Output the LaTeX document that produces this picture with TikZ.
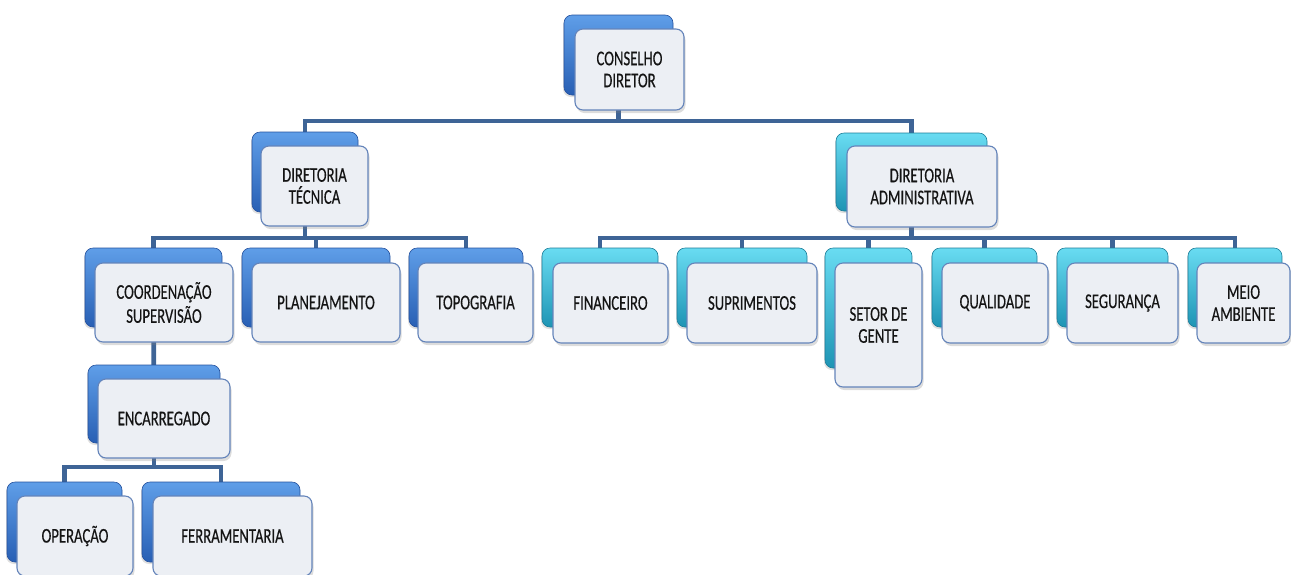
\documentclass[tikz,border=0pt]{standalone}
\usepackage{fontspec}
\setmainfont{Carlito}[FakeStretch=0.7,FakeBold=0.35]
\usetikzlibrary{shadows,backgrounds}
\definecolor{blueTop}{RGB}{95,158,232}
\definecolor{blueBot}{RGB}{40,95,180}
\definecolor{blueEdge}{RGB}{38,82,158}
\definecolor{cyanTop}{RGB}{105,220,242}
\definecolor{cyanBot}{RGB}{30,148,180}
\definecolor{cyanEdge}{RGB}{28,125,152}
\definecolor{frontFill}{RGB}{236,239,244}
\definecolor{frontLine}{RGB}{100,132,186}
\definecolor{connCol}{RGB}{62,100,150}
\definecolor{txtCol}{RGB}{20,20,20}
\begin{document}
\begin{tikzpicture}[x=1pt,y=-1pt,
  backblue/.style={rounded corners=8pt, inner sep=0pt, outer sep=0pt,
    top color=blueTop, bottom color=blueBot, draw=blueEdge, line width=0.6pt,
    drop shadow={opacity=0.25,shadow xshift=-1pt,shadow yshift=-2pt}},
  backcyan/.style={rounded corners=8pt, inner sep=0pt, outer sep=0pt,
    top color=cyanTop, bottom color=cyanBot, draw=cyanEdge, line width=0.6pt,
    drop shadow={opacity=0.25,shadow xshift=-1pt,shadow yshift=-2pt}},
  front/.style={rounded corners=8pt, inner sep=0pt, outer sep=0pt,
    fill=frontFill, draw=frontLine, line width=1.1pt, align=center,
    text=txtCol, font=\fontsize{21}{22}\selectfont,
    drop shadow={opacity=0.28,shadow xshift=1.5pt,shadow yshift=-3pt}},
  conn/.style={draw=connCol, line width=4.8pt, line join=miter}]
\useasboundingbox (0,0) rectangle (1291,574);
\coordinate (L1) at (0,121);
\coordinate (L2) at (0,238);
\coordinate (L4) at (0,467);

% level 0
\node[backblue, minimum width=109, minimum height=80] (cb) at (618.5,55) {};
\node[front, minimum width=109, minimum height=81] (c) at (629.5,69.5) {CONSELHO\\DIRETOR};
% level 1
\node[backblue, minimum width=106, minimum height=80] (dtb) at (305,172) {};
\node[front, minimum width=107, minimum height=80] (dt) at (314.5,186) {DIRETORIA\\TÉCNICA};
\node[backcyan, minimum width=151, minimum height=78] (dab) at (911.5,172) {};
\node[front, minimum width=150, minimum height=81] (da) at (922,186.5) {DIRETORIA\\ADMINISTRATIVA};
% level 2 left
\node[backblue, minimum width=137, minimum height=79] (cob) at (153.5,287.5) {};
\node[front, minimum width=138, minimum height=79] (co) at (164,302.5) {COORDENAÇÃO\\[2pt]SUPERVISÃO};
\node[backblue, minimum width=148, minimum height=79] (plb) at (316,287.5) {};
\node[front, minimum width=148, minimum height=79] (pl) at (326,302.5) {PLANEJAMENTO};
\node[backblue, minimum width=114, minimum height=79] (tob) at (466,287.5) {};
\node[front, minimum width=115, minimum height=79] (to) at (475.5,302.5) {TOPOGRAFIA};
% level 2 right
\node[backcyan, minimum width=116, minimum height=79] (fib) at (600,287.5) {};
\node[front, minimum width=115, minimum height=80] (fi) at (610.5,303) {FINANCEIRO};
\node[backcyan, minimum width=130, minimum height=79] (sub) at (742,287.5) {};
\node[front, minimum width=130, minimum height=80] (su) at (752,303) {SUPRIMENTOS};
\node[backcyan, minimum width=87, minimum height=120] (sgb) at (868.5,308) {};
\node[front, minimum width=87, minimum height=124] (sg) at (878.5,325) {SETOR DE\\GENTE};
\node[backcyan, minimum width=105, minimum height=79] (qub) at (984.5,287.5) {};
\node[front, minimum width=106, minimum height=80] (qu) at (995,303) {QUALIDADE};
\node[backcyan, minimum width=111, minimum height=79] (seb) at (1112.5,287.5) {};
\node[front, minimum width=111, minimum height=80] (se) at (1122.5,303) {SEGURANÇA};
\node[backcyan, minimum width=94, minimum height=79] (meb) at (1235,287.5) {};
\node[front, minimum width=93, minimum height=80] (me) at (1243.5,303) {MEIO\\AMBIENTE};
% level 3
\node[backblue, minimum width=132, minimum height=78] (enb) at (154,404) {};
\node[front, minimum width=132, minimum height=79] (en) at (164,418.5) {ENCARREGADO};
% level 4
\node[backblue, minimum width=115, minimum height=80] (opb) at (64.5,522) {};
\node[front, minimum width=116, minimum height=80] (op) at (75,536) {OPERAÇÃO};
\node[backblue, minimum width=158, minimum height=80] (feb) at (221,522) {};
\node[front, minimum width=159, minimum height=80] (fe) at (232.5,536) {FERRAMENTARIA};

\begin{scope}[on background layer]
  \draw[conn] (cb.center) -- (cb.center |- L1);
  \draw[conn] (dtb.center) |- (cb.center |- L1) -| (dab.center);
  \draw[conn] (dtb.center) -- (dtb.center |- L2);
  \draw[conn] (cob.center) |- (plb.center |- L2) -| (tob.center);
  \draw[conn] (plb.center) -- (plb.center |- L2);
  \draw[conn] (dab.center) -- (dab.center |- L2);
  \draw[conn] (fib.center) |- (sgb.center |- L2) -| (meb.center);
  \draw[conn] (sub.center) -- (sub.center |- L2);
  \draw[conn] (sgb.center) -- (sgb.center |- L2);
  \draw[conn] (qub.center) -- (qub.center |- L2);
  \draw[conn] (seb.center) -- (seb.center |- L2);
  \draw[conn] (cob.center) -- (enb.center);
  \draw[conn] (enb.center) -- (enb.center |- L4);
  \draw[conn] (opb.center) |- (enb.center |- L4) -| (feb.center);
\end{scope}
\end{tikzpicture}
\end{document}
